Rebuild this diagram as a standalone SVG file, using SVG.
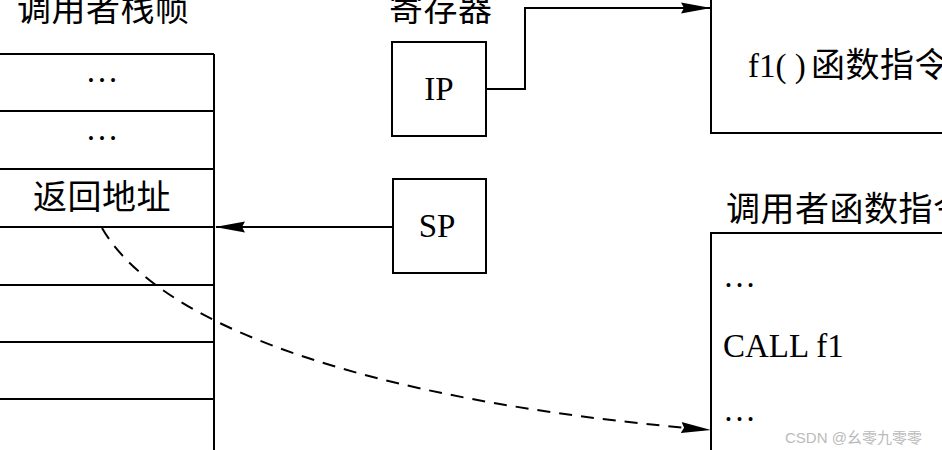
<svg xmlns="http://www.w3.org/2000/svg" width="942" height="450" viewBox="0 0 942 450">
<style>
.t{font-family:"Liberation Serif","Noto Sans CJK SC",serif;font-size:33px;fill:#000}
.z{font-size:34px;letter-spacing:0.5px}
.c{text-anchor:middle}
.ln{stroke:#000;stroke-width:2;fill:none}
.bx{stroke:#000;stroke-width:2;fill:#fff}
</style>
<defs>
<marker id="ah" viewBox="0 0 30 14" refX="29" refY="7" markerWidth="30" markerHeight="14" markerUnits="userSpaceOnUse" orient="auto">
<path d="M0,1.5 L30,7 L0,12.5 L3,7 Z" fill="#000"/>
</marker>
</defs>
<rect width="942" height="450" fill="#fff"/>
<g id="stack">
<text class="t z" x="17" y="21">调用者栈帧</text>
<path class="ln" d="M0,54 H214 M0,111 H214 M0,169 H214 M0,227 H214 M0,285 H214 M0,342 H214 M0,399 H214 M214,54 V450"/>
<text class="t c" x="102" y="82">…</text>
<text class="t c" x="102" y="140">…</text>
<text class="t z c" x="102" y="209">返回地址</text>
</g>
<g id="registers">
<text class="t z" x="389" y="21">寄存器</text>
</g>
<g id="ip">
<rect class="bx" x="392" y="42" width="94" height="94"/>
<text class="t c" x="439" y="100">IP</text>
</g>
<g id="sp">
<rect class="bx" x="393" y="179" width="93" height="94"/>
<text class="t c" x="437" y="237">SP</text>
</g>
<g id="f1">
<rect class="bx" x="711" y="-10" width="260" height="143"/>
<text class="t" x="748" y="77">f1( )<tspan class="z" x="811">函数指令</tspan></text>
</g>
<g id="caller">
<text class="t z" x="726" y="221">调用者函数指令</text>
<rect class="bx" x="711" y="233" width="260" height="240"/>
<text class="t" x="723" y="287">…</text>
<text class="t" x="723" y="357">CALL f1</text>
<text class="t" x="723" y="421">…</text>
</g>
<g id="connectors">
<path class="ln" d="M486,89 H525 V8 H710" marker-end="url(#ah)"/>
<path class="ln" d="M393,227 H216" marker-end="url(#ah)"/>
<path class="ln" d="M102,228 C155,320 350,400 710,430" stroke-dasharray="13,9" marker-end="url(#ah)"/>
</g>
<text x="785" y="443" style="font-family:'Liberation Sans','Noto Sans CJK SC',sans-serif;font-size:15px;fill:#bbb">CSDN @幺零九零零</text>
</svg>
